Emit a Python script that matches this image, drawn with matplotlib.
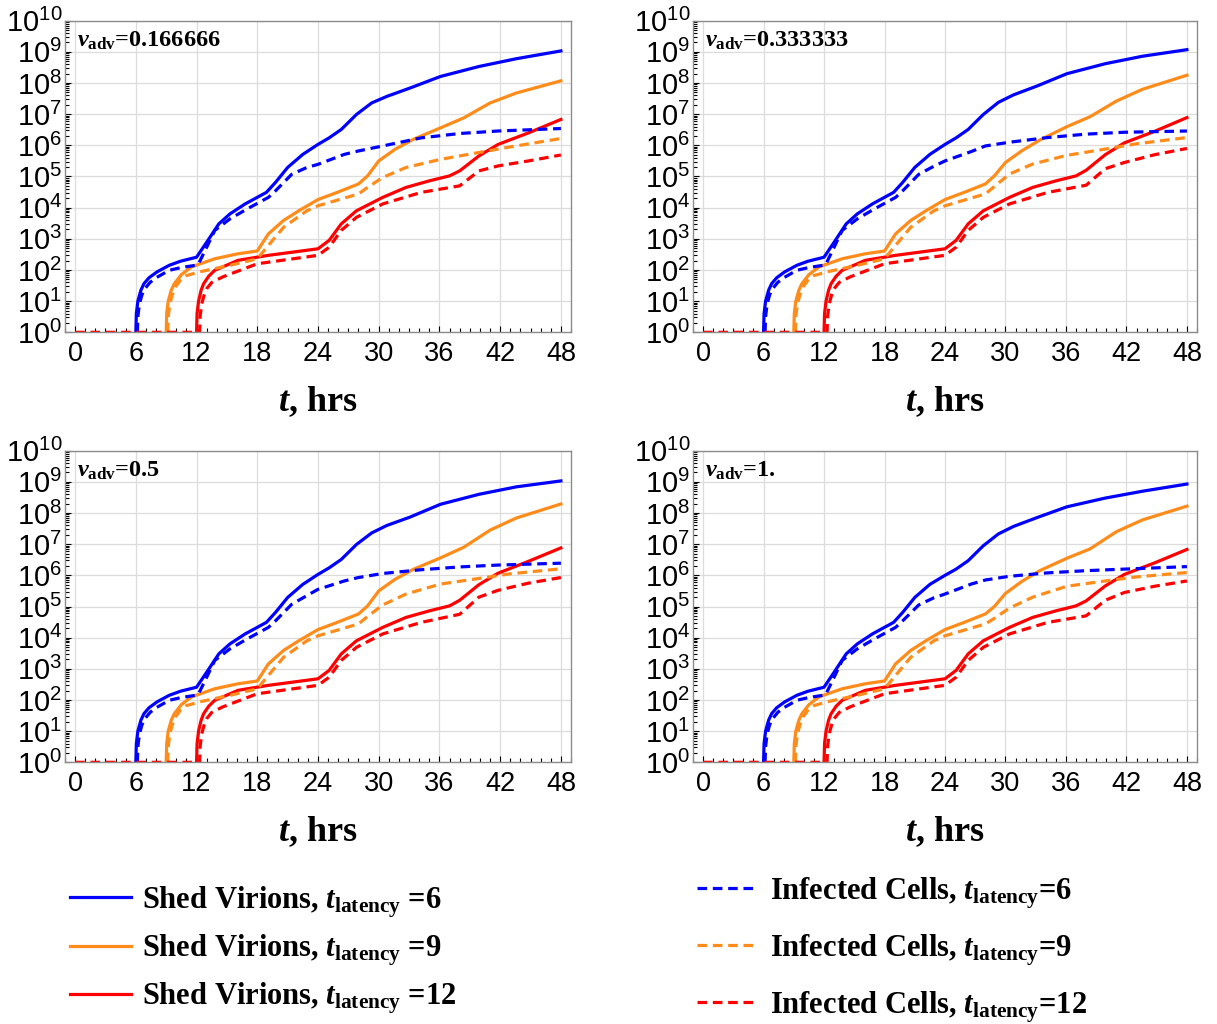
import numpy as np
import matplotlib
matplotlib.use("Agg")
import matplotlib.pyplot as plt
from matplotlib.ticker import FixedLocator, MultipleLocator, LogLocator, FuncFormatter, NullFormatter

plt.rcParams['mathtext.fontset'] = 'custom'
plt.rcParams['mathtext.rm'] = 'Liberation Serif:bold'
plt.rcParams['mathtext.it'] = 'Liberation Serif:italic:bold'
plt.rcParams['mathtext.bf'] = 'Liberation Serif:bold'
plt.rcParams['mathtext.sf'] = 'Liberation Sans'

# panel titles (advection speed)
v_adv = ["0.166666", "0.333333", "0.5", "1."]

# values are log10 of the count, read off the log axis of each panel
# --- Shed virions, t_latency = 6 (blue solid)
sv6_t = [6, 6.05, 6.2, 6.5, 6.8, 7.3, 8.1, 9.3, 10.4, 12, 13, 14.2, 15.3, 16.8, 18.9,
         19.8, 21, 22.5, 24, 25.1, 26.3, 27.8, 29.3, 30.8, 33.1, 36.1, 39.9, 43.6, 48]
sv6_p1 = [0, 0.6, 1.0, 1.35, 1.56, 1.75, 1.94, 2.15, 2.28, 2.41, 2.89, 3.48, 3.8, 4.12, 4.49,
          4.81, 5.29, 5.71, 6.03, 6.24, 6.51, 6.99, 7.36, 7.57, 7.84, 8.21, 8.53, 8.78, 9.03]
sv6_p2 = [0, 0.6, 1.0, 1.35, 1.56, 1.75, 1.94, 2.15, 2.28, 2.41, 2.89, 3.48, 3.8, 4.12, 4.49,
          4.81, 5.29, 5.71, 6.03, 6.24, 6.51, 6.99, 7.38, 7.62, 7.9, 8.3, 8.62, 8.86, 9.07]
sv6_p3 = [0, 0.6, 1.0, 1.35, 1.56, 1.75, 1.94, 2.15, 2.28, 2.41, 2.89, 3.48, 3.8, 4.12, 4.49,
          4.81, 5.29, 5.71, 6.03, 6.24, 6.51, 6.99, 7.36, 7.6, 7.87, 8.28, 8.6, 8.84, 9.03]
sv6_p4 = [0, 0.6, 1.0, 1.35, 1.56, 1.75, 1.94, 2.15, 2.28, 2.41, 2.89, 3.48, 3.8, 4.12, 4.49,
          4.81, 5.29, 5.71, 6.0, 6.2, 6.47, 6.95, 7.33, 7.57, 7.85, 8.2, 8.48, 8.7, 8.93]

# --- Infected cells, t_latency = 6 (blue dashed)
ic6_t = [6.15, 6.2, 6.35, 6.6, 6.9, 7.4, 8, 9.3, 10.5, 11.9, 12.2, 13, 13.8, 15.3, 17,
         19.1, 19.8, 21.4, 22.9, 24, 26.6, 28, 30.4, 34.2, 38, 41.8, 48]
ic6_p1 = [0, 0.5, 0.9, 1.2, 1.4, 1.6, 1.75, 1.99, 2.08, 2.15, 2.2, 2.73, 3.27, 3.64, 3.96,
          4.33, 4.54, 5.07, 5.29, 5.39, 5.71, 5.82, 5.98, 6.24, 6.38, 6.46, 6.54]
ic6_p2 = [0, 0.5, 0.9, 1.2, 1.4, 1.6, 1.75, 1.99, 2.08, 2.15, 2.2, 2.73, 3.27, 3.64, 3.96,
          4.33, 4.54, 5.07, 5.33, 5.5, 5.8, 5.98, 6.1, 6.25, 6.36, 6.42, 6.46]
ic6_p3 = [0, 0.5, 0.9, 1.2, 1.4, 1.6, 1.75, 1.99, 2.08, 2.15, 2.2, 2.73, 3.27, 3.64, 3.96,
          4.33, 4.54, 5.07, 5.35, 5.55, 5.82, 5.93, 6.06, 6.18, 6.27, 6.33, 6.39]
ic6_p4 = [0, 0.5, 0.9, 1.2, 1.4, 1.6, 1.75, 1.99, 2.08, 2.15, 2.2, 2.73, 3.27, 3.64, 3.96,
          4.33, 4.54, 5.05, 5.28, 5.4, 5.72, 5.85, 5.97, 6.08, 6.15, 6.2, 6.28]

# --- Shed virions, t_latency = 9 (orange solid)
sv9_t = [9, 9.05, 9.2, 9.5, 9.8, 10.5, 11.5, 13.8, 16.1, 18, 19.1, 20.6, 22.1, 24, 25.9,
         28, 28.9, 30, 31.6, 33.4, 36.1, 38.4, 41, 43.6, 48]
sv9_p1 = [0, 0.6, 1.0, 1.35, 1.56, 1.85, 2.1, 2.36, 2.52, 2.61, 3.16, 3.59, 3.9, 4.26, 4.49,
          4.76, 5.02, 5.5, 5.87, 6.19, 6.56, 6.88, 7.36, 7.68, 8.07]
sv9_p2 = [0, 0.6, 1.0, 1.35, 1.56, 1.85, 2.1, 2.36, 2.52, 2.61, 3.16, 3.59, 3.9, 4.26, 4.49,
          4.76, 5.02, 5.45, 5.82, 6.17, 6.6, 6.92, 7.42, 7.8, 8.25]
sv9_p3 = [0, 0.6, 1.0, 1.35, 1.56, 1.85, 2.1, 2.36, 2.52, 2.61, 3.16, 3.59, 3.9, 4.26, 4.49,
          4.76, 5.02, 5.5, 5.87, 6.19, 6.56, 6.9, 7.45, 7.84, 8.29]
sv9_p4 = [0, 0.6, 1.0, 1.35, 1.56, 1.85, 2.1, 2.36, 2.52, 2.61, 3.16, 3.59, 3.9, 4.26, 4.49,
          4.76, 5.0, 5.42, 5.8, 6.15, 6.55, 6.85, 7.4, 7.78, 8.22]

# --- Infected cells, t_latency = 9 (orange dashed)
ic9_t = [9.15, 9.2, 9.35, 9.6, 9.9, 10.4, 11, 12.3, 15.3, 18, 19.1, 20.6, 22.9, 24, 28,
         28.9, 30.4, 32.7, 36.1, 39.9, 43, 48]
ic9_p1 = [0, 0.5, 0.9, 1.2, 1.45, 1.67, 1.82, 1.94, 2.15, 2.36, 2.79, 3.37, 3.9, 4.06, 4.44,
          4.65, 4.97, 5.29, 5.55, 5.77, 5.95, 6.22]
ic9_p2 = [0, 0.5, 0.9, 1.2, 1.45, 1.67, 1.82, 1.94, 2.15, 2.36, 2.79, 3.37, 3.9, 4.06, 4.44,
          4.68, 5.08, 5.4, 5.68, 5.88, 6.05, 6.25]
ic9_p3 = [0, 0.5, 0.9, 1.2, 1.45, 1.67, 1.82, 1.94, 2.15, 2.36, 2.79, 3.37, 3.9, 4.06, 4.44,
          4.68, 5.05, 5.4, 5.72, 5.9, 6.05, 6.21]
ic9_p4 = [0, 0.5, 0.9, 1.2, 1.45, 1.67, 1.82, 1.94, 2.15, 2.36, 2.79, 3.37, 3.9, 4.06, 4.44,
          4.62, 4.95, 5.3, 5.65, 5.82, 5.95, 6.09]

# --- Shed virions, t_latency = 12 (red solid)
sv12_t = [12, 12.05, 12.2, 12.45, 12.7, 13.2, 13.8, 16.1, 19.1, 24, 25.1, 26.3, 27.8, 30.4,
          32.7, 35, 37, 38, 39.9, 41.8, 44.8, 48]
sv12_p1 = [0, 0.6, 1.0, 1.35, 1.56, 1.8, 1.99, 2.31, 2.47, 2.68, 2.95, 3.48, 3.9, 4.33,
           4.65, 4.86, 5.02, 5.18, 5.66, 6.03, 6.4, 6.83]
sv12_p2 = [0, 0.6, 1.0, 1.35, 1.56, 1.8, 1.99, 2.31, 2.47, 2.68, 2.95, 3.48, 3.9, 4.33,
           4.65, 4.86, 5.02, 5.2, 5.7, 6.08, 6.45, 6.89]
sv12_p3 = [0, 0.6, 1.0, 1.35, 1.56, 1.8, 1.99, 2.31, 2.47, 2.68, 2.95, 3.48, 3.9, 4.33,
           4.65, 4.86, 5.02, 5.2, 5.7, 6.07, 6.45, 6.88]
sv12_p4 = [0, 0.6, 1.0, 1.35, 1.56, 1.8, 1.99, 2.31, 2.47, 2.68, 2.95, 3.48, 3.9, 4.33,
           4.65, 4.86, 5.02, 5.18, 5.66, 6.03, 6.4, 6.83]

# --- Infected cells, t_latency = 12 (red dashed)
ic12_t = [0, 12.3, 12.35, 12.5, 12.75, 13, 13.5, 14.6, 18, 24, 25.1, 26.3, 27.8, 30.4, 34.2,
          38, 39.9, 41.8, 44.8, 48]
ic12_p1 = [0, 0, 0.5, 0.9, 1.2, 1.4, 1.6, 1.78, 2.2, 2.47, 2.73, 3.27, 3.69, 4.12, 4.49,
           4.7, 5.18, 5.34, 5.5, 5.69]
ic12_p2 = [0, 0, 0.5, 0.9, 1.2, 1.4, 1.6, 1.78, 2.2, 2.47, 2.73, 3.27, 3.69, 4.12, 4.49,
           4.72, 5.25, 5.45, 5.7, 5.9]
ic12_p3 = [0, 0, 0.5, 0.9, 1.2, 1.4, 1.6, 1.78, 2.2, 2.47, 2.73, 3.27, 3.69, 4.12, 4.49,
           4.75, 5.3, 5.52, 5.75, 5.93]
ic12_p4 = [0, 0, 0.5, 0.9, 1.2, 1.4, 1.6, 1.78, 2.2, 2.47, 2.73, 3.27, 3.69, 4.12, 4.49,
           4.7, 5.2, 5.45, 5.65, 5.82]

BLUE, ORANGE, RED = '#0000ff', '#ff8c1a', '#ff0000'
DASH = (0, (3, 1.8))

# (times, [panel values], colour, style, legend label)
series = [
    (sv6_t, [sv6_p1, sv6_p2, sv6_p3, sv6_p4], BLUE, '-', r'Shed Virions, $t_{\mathrm{latency}}$ =6'),
    (sv9_t, [sv9_p1, sv9_p2, sv9_p3, sv9_p4], ORANGE, '-', r'Shed Virions, $t_{\mathrm{latency}}$ =9'),
    (sv12_t, [sv12_p1, sv12_p2, sv12_p3, sv12_p4], RED, '-', r'Shed Virions, $t_{\mathrm{latency}}$ =12'),
    (ic6_t, [ic6_p1, ic6_p2, ic6_p3, ic6_p4], BLUE, DASH, r'Infected Cells, $t_{\mathrm{latency}}$=6'),
    (ic9_t, [ic9_p1, ic9_p2, ic9_p3, ic9_p4], ORANGE, DASH, r'Infected Cells, $t_{\mathrm{latency}}$=9'),
    (ic12_t, [ic12_p1, ic12_p2, ic12_p3, ic12_p4], RED, DASH, r'Infected Cells, $t_{\mathrm{latency}}$=12'),
]

W, H = 1217, 1024
fig = plt.figure(figsize=(W / 100, H / 100), dpi=100)

# panel frames in pixels: left, top, right, bottom
boxes = [(65, 20.7, 571, 332.3), (693, 20.7, 1197, 332.3),
         (65, 450.7, 571, 762.3), (693, 450.7, 1197, 762.3)]

serif = 'Liberation Serif'
handles = []
for k, (l, t, r, b) in enumerate(boxes):
    ax = fig.add_axes([l / W, 1 - b / H, (r - l) / W, (b - t) / H])
    for ts, vals, col, ls, lab in series:
        ln, = ax.plot(ts, 10 ** np.array(vals[k]), color=col, ls=ls, lw=2.3, label=lab)
        if k == 0:
            handles.append(ln)

    ax.set_yscale('log')
    ax.set_xlim(-1, 49)
    ax.set_ylim(1, 1e10)
    ax.xaxis.set_major_locator(FixedLocator(range(0, 49, 6)))
    ax.xaxis.set_minor_locator(MultipleLocator(1))
    ax.yaxis.set_major_locator(FixedLocator([10.0 ** e for e in range(11)]))
    ax.yaxis.set_minor_locator(LogLocator(base=10, subs=np.arange(2, 10), numticks=20))
    ax.yaxis.set_minor_formatter(NullFormatter())
    ax.yaxis.set_major_formatter(FuncFormatter(
        lambda v, p: r'$\mathsf{10^{%d}}$' % int(round(np.log10(v)))))
    ax.grid(True, which='major', color='#dcdcdc', lw=0.9)
    ax.set_axisbelow(True)
    for s in ax.spines.values():
        s.set_color('#8c8c8c')
        s.set_linewidth(1.0)
    ax.tick_params(which='both', direction='in', top=False, right=False, color='black', width=0.8)
    ax.tick_params(which='major', length=4.5)
    ax.tick_params(which='minor', length=3)
    ax.tick_params(axis='x', labelsize=19.5, pad=6)
    ax.tick_params(axis='y', labelsize=21, pad=2)
    for lab in ax.get_xticklabels():
        lab.set_family('Liberation Sans')

    ax.set_xlabel(r'$t$, hrs', fontsize=26, family=serif, weight='bold', labelpad=13)
    ax.text(0.024, 0.916, r'$v_{\mathrm{adv}}$=' + v_adv[k], transform=ax.transAxes,
            fontsize=17.5, family=serif, weight='bold', va='baseline')

prop = {'family': serif, 'weight': 'bold', 'size': 22}
fig.legend(handles[:3], [h.get_label() for h in handles[:3]], loc='upper left',
           bbox_to_anchor=(70 / W, 1 - 884 / H), frameon=False, prop=prop,
           handlelength=2.0, handletextpad=0.35, labelspacing=0.42,
           borderpad=0, borderaxespad=0)
fig.legend(handles[3:], [h.get_label() for h in handles[3:]], loc='upper left',
           bbox_to_anchor=(697 / W, 1 - 875 / H), frameon=False, prop=prop,
           handlelength=1.85, handletextpad=0.55, labelspacing=0.7,
           borderpad=0, borderaxespad=0)

fig.savefig('out.png', dpi=100)
